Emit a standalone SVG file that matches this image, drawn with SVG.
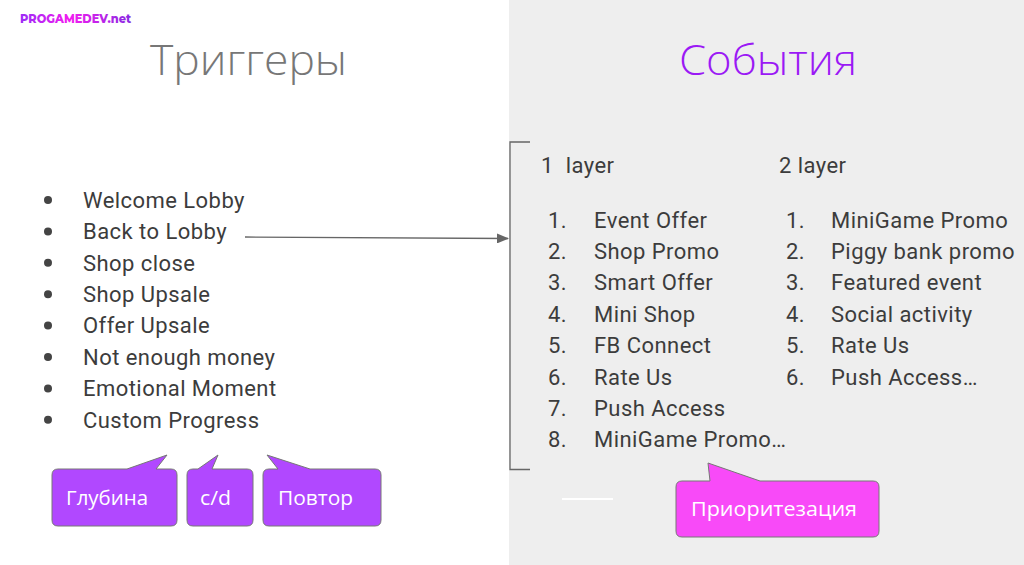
<svg xmlns="http://www.w3.org/2000/svg" width="1024" height="565" viewBox="0 0 1024 565">
<defs>
<linearGradient id="logo" x1="20" y1="0" x2="131" y2="0" gradientUnits="userSpaceOnUse">
<stop offset="0" stop-color="#9b2cf7"/>
<stop offset="0.45" stop-color="#f21cf0"/>
<stop offset="1" stop-color="#8a2be2"/>
</linearGradient>
<marker id="arr" markerWidth="12" markerHeight="10" refX="11" refY="5" orient="auto" markerUnits="userSpaceOnUse">
<path d="M0,0 L12,5 L0,10 Z" fill="#666"/>
</marker>
<style>
.title{font-family:"Open Sans","Liberation Sans",sans-serif;font-weight:300;font-size:43px}
.item{font-family:Roboto,"Liberation Sans",sans-serif;font-size:22px;letter-spacing:0.45px;fill:#3c3c3c}
.call{stroke:#777;stroke-width:1}
.ctext{font-family:"Open Sans","Liberation Sans",sans-serif;font-size:20px;fill:#fff}
</style>
</defs>
<rect x="0" y="0" width="1024" height="565" fill="#ffffff"/>
<rect x="509" y="0" width="515" height="565" fill="#eeeeee"/>
<text x="20" y="22.5" font-family="Montserrat,'Open Sans','Liberation Sans',sans-serif" font-weight="800" font-size="12" fill="url(#logo)" textLength="111" lengthAdjust="spacingAndGlyphs">PROGAMEDEV.net</text>
<text class="title" x="150" y="75" fill="#777777" textLength="197" lengthAdjust="spacingAndGlyphs">Триггеры</text>
<text class="title" x="679" y="75" fill="#9b19f5" textLength="178" lengthAdjust="spacingAndGlyphs">События</text>
<g id="triggers">
<g fill="#444">
<circle cx="48" cy="200" r="4"/>
<circle cx="48" cy="231.4" r="4"/>
<circle cx="48" cy="262.8" r="4"/>
<circle cx="48" cy="294.2" r="4"/>
<circle cx="48" cy="325.6" r="4"/>
<circle cx="48" cy="357" r="4"/>
<circle cx="48" cy="388.4" r="4"/>
<circle cx="48" cy="419.8" r="4"/>
</g>
<text class="item" x="83" y="207.7">Welcome Lobby</text>
<text class="item" x="83" y="239.1">Back to Lobby</text>
<text class="item" x="83" y="270.5">Shop close</text>
<text class="item" x="83" y="301.9">Shop Upsale</text>
<text class="item" x="83" y="333.3">Offer Upsale</text>
<text class="item" x="83" y="364.7">Not enough money</text>
<text class="item" x="83" y="396.1">Emotional Moment</text>
<text class="item" x="83" y="427.5">Custom Progress</text>
</g>
<g id="layer1">
<text class="item" x="541" y="172.7">1&#160; layer</text>
<text class="item" x="548" y="227.5">1.</text><text class="item" x="594" y="227.5">Event Offer</text>
<text class="item" x="548" y="258.9">2.</text><text class="item" x="594" y="258.9">Shop Promo</text>
<text class="item" x="548" y="290.3">3.</text><text class="item" x="594" y="290.3">Smart Offer</text>
<text class="item" x="548" y="321.7">4.</text><text class="item" x="594" y="321.7">Mini Shop</text>
<text class="item" x="548" y="353.1">5.</text><text class="item" x="594" y="353.1">FB Connect</text>
<text class="item" x="548" y="384.5">6.</text><text class="item" x="594" y="384.5">Rate Us</text>
<text class="item" x="548" y="415.9">7.</text><text class="item" x="594" y="415.9">Push Access</text>
<text class="item" x="548" y="447.3">8.</text><text class="item" x="594" y="447.3">MiniGame Promo…</text>
</g>
<g id="layer2">
<text class="item" x="779" y="172.7">2 layer</text>
<text class="item" x="786" y="227.5">1.</text><text class="item" x="831" y="227.5">MiniGame Promo</text>
<text class="item" x="786" y="258.9">2.</text><text class="item" x="831" y="258.9">Piggy bank promo</text>
<text class="item" x="786" y="290.3">3.</text><text class="item" x="831" y="290.3">Featured event</text>
<text class="item" x="786" y="321.7">4.</text><text class="item" x="831" y="321.7">Social activity</text>
<text class="item" x="786" y="353.1">5.</text><text class="item" x="831" y="353.1">Rate Us</text>
<text class="item" x="786" y="384.5">6.</text><text class="item" x="831" y="384.5">Push Access…</text>
</g>
<g id="connectors" fill="none" stroke="#666" stroke-width="1.3">
<path d="M245,237 L508,238.5" marker-end="url(#arr)"/>
<path d="M530,142 H510 V469.5 H530"/>
<path d="M562,499 H613" stroke="#ffffff" stroke-width="2"/>
</g>
<g id="callout-depth">
<path class="call" fill="#b148ff" d="M58,469 H127 L167,455 L156,469 H171 Q177,469 177,475 V520 Q177,526 171,526 H58 Q52,526 52,520 V475 Q52,469 58,469 Z"/>
<text class="ctext" x="66" y="505" textLength="82" lengthAdjust="spacingAndGlyphs">Глубина</text>
</g>
<g id="callout-cd">
<path class="call" fill="#b148ff" d="M193,469 H198 L218,455 L212,469 H247 Q253,469 253,475 V520 Q253,526 247,526 H193 Q187,526 187,520 V475 Q187,469 193,469 Z"/>
<text class="ctext" x="200" y="505" textLength="31" lengthAdjust="spacingAndGlyphs">c/d</text>
</g>
<g id="callout-repeat">
<path class="call" fill="#b148ff" d="M269,469 H278 L267,455 L310,469 H375 Q381,469 381,475 V520 Q381,526 375,526 H269 Q263,526 263,520 V475 Q263,469 269,469 Z"/>
<text class="ctext" x="278" y="505" textLength="75" lengthAdjust="spacingAndGlyphs">Повтор</text>
</g>
<g id="callout-priority">
<path class="call" fill="#f84af8" d="M682,481 H710 L708,463 L760,481 H873 Q879,481 879,487 V531 Q879,537 873,537 H682 Q676,537 676,531 V487 Q676,481 682,481 Z"/>
<text class="ctext" x="691" y="516" textLength="166" lengthAdjust="spacingAndGlyphs">Приоритезация</text>
</g>
</svg>
